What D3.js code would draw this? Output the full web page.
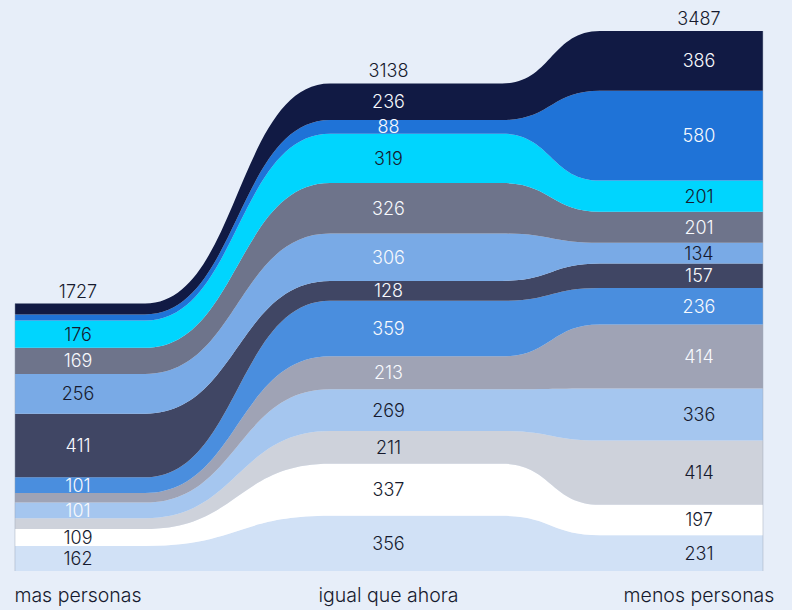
<!DOCTYPE html>
<html><head><meta charset="utf-8">
<script src="https://cdn.jsdelivr.net/npm/d3@7"></script>
<style>
html,body{margin:0;padding:0;background:#e7eef9;}
svg{display:block;}
text{font-family:Inter,"Noto Sans",sans-serif;font-weight:300;}
</style></head><body>
<svg id="chart" width="792" height="610"></svg>
<script>
// ---- data ----
const categories = ["mas personas", "igual que ahora", "menos personas"];
const totals = [1727, 3138, 3487];
// series, listed top to bottom of the stack
const seriesKeys = ["navy", "royal", "cyan", "slate", "sky", "ink", "azure", "steel", "powder", "mist", "snow", "frost"];
const navy   = [70, 236, 386];
const royal  = [40, 88, 580];
const cyan   = [176, 319, 201];
const slate  = [169, 326, 201];
const sky    = [256, 306, 134];
const ink    = [411, 128, 157];
const azure  = [101, 359, 236];
const steel  = [62, 213, 414];
const powder = [101, 269, 336];
const mist   = [70, 211, 414];
const snow   = [109, 337, 197];
const frost  = [162, 356, 231];
const seriesValues = {navy, royal, cyan, slate, sky, ink, azure, steel, powder, mist, snow, frost};

// ---- styles ----
const fills = {navy:"#111a44", royal:"#1f73d7", cyan:"#00d5fe", slate:"#6e748b", sky:"#79aae6",
  ink:"#404664", azure:"#4a8ede", steel:"#9fa3b5", powder:"#a5c6ef", mist:"#ced2db", snow:"#ffffff", frost:"#d1e1f6"};
const DARK = "#161a2e", LIGHT = "#f7f9fd";
const inks = {navy:"www", royal:"www", cyan:"ddd", slate:"www", sky:"dwd", ink:"www", azure:"www",
  steel:"www", powder:"wdd", mist:"ddd", snow:"ddd", frost:"ddd"};

// ---- layout ----
const svg = d3.select("#chart");
const x = d3.scaleLinear().domain([0, 2]).range([78, 699]);      // column index -> px
const plateaus = [[-0.203, 0.216], [0.812, 1.366], [1.681, 2.206]]; // plateau extents in column units
const y = d3.scaleLinear().domain([0, d3.max(totals)]).range([571, 31]);

const table = categories.map((c, i) => {
  const row = {cat: c, i};
  seriesKeys.forEach(k => row[k] = seriesValues[k][i]);
  return row;
});
const stack = d3.stack().keys(seriesKeys.slice().reverse());
const layers = stack(table);

const area = d3.area()
  .x(d => x(d.pos))
  .y0(d => y(d.y0))
  .y1(d => y(d.y1))
  .curve(d3.curveBumpX);

layers.forEach(layer => {
  const pts = [];
  layer.forEach((d, i) => {
    plateaus[i].forEach(p => pts.push({pos: p, y0: d[0], y1: d[1]}));
  });
  svg.append("path").attr("d", area(pts)).attr("fill", fills[layer.key]);
});

// edge hairlines
const stackTop = i => d3.max(layers, l => l[i][1]);
[0, 2].forEach(i => {
  const px = x(plateaus[i][i === 0 ? 0 : 1]);
  svg.append("line").attr("x1", px).attr("x2", px)
    .attr("y1", y(stackTop(i))).attr("y2", y(0))
    .attr("stroke", "#9aa3b6").attr("stroke-opacity", 0.45).attr("stroke-width", 1);
});

// value labels
layers.forEach(layer => {
  layer.forEach((d, i) => {
    const h = y(d[0]) - y(d[1]);
    if (h < 12) return;
    svg.append("text")
      .attr("x", x(i)).attr("y", (y(d[0]) + y(d[1])) / 2)
      .attr("dy", "0.36em").attr("text-anchor", "middle")
      .attr("font-size", 18)
      .attr("fill", inks[layer.key][i] === "w" ? LIGHT : DARK)
      .text(seriesValues[layer.key][i]);
  });
});

// totals
totals.forEach((t, i) => {
  svg.append("text")
    .attr("x", x(i)).attr("y", y(stackTop(i)) - 6)
    .attr("text-anchor", "middle").attr("font-size", 18).attr("fill", DARK)
    .text(t);
});

// category labels
categories.forEach((c, i) => {
  svg.append("text")
    .attr("x", x(i)).attr("y", 602)
    .attr("text-anchor", "middle").attr("font-size", 19.5).attr("fill", DARK)
    .text(c);
});
</script>
</body></html>
